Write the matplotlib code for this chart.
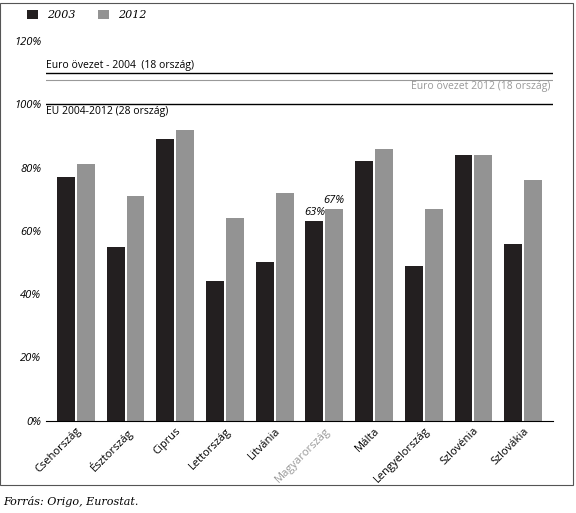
import matplotlib
matplotlib.use("Agg")
import matplotlib.pyplot as plt
from matplotlib.patches import Rectangle

categories = ["Csehország","Észtország","Ciprus","Lettország","Litvánia","Magyarország","Málta","Lengyelország","Szlovénia","Szlovákia"]
v2003 = [77,55,89,44,50,63,82,49,84,56]
v2012 = [81,71,92,64,72,67,86,67,84,76]
yticks = [0,20,40,60,80,100,120]

plt.rcParams['font.family'] = ['Open Sans','DejaVu Sans']
fig = plt.figure(figsize=(5.76,5.13), dpi=100)
ax = fig.add_axes([0.08, 0.18, 0.88, 0.74])
x = range(len(categories))
w = 0.36
off = 0.2
ax.bar([i-off for i in x], v2003, w, color='#231f20', label='2003')
ax.bar([i+off for i in x], v2012, w, color='#939393', label='2012')
ax.set_ylim(0,120)
ax.set_xlim(-0.6, len(categories)-0.4)
ax.set_yticks(yticks)
ax.set_yticklabels([f"{t}%" for t in yticks], fontsize=8, style='italic')
ax.set_xticks(list(x))
ax.set_xticklabels(categories, rotation=45, ha='right', fontsize=8, rotation_mode='anchor')
for lab in ax.get_xticklabels():
    if lab.get_text() == "Magyarország":
        lab.set_color('#999999')
for s in ['top','right','left']:
    ax.spines[s].set_visible(False)
ax.tick_params(length=0)
ax.axhline(110, color='black', lw=1)
ax.axhline(107.8, color='#999999', lw=0.8)
ax.axhline(100, color='black', lw=1)
ax.text(-0.6, 110.5, "Euro övezet - 2004  (18 ország)", fontsize=7.5, va='bottom')
ax.text(len(categories)-0.45, 107.3, "Euro övezet 2012 (18 ország)", fontsize=7.5, va='top', ha='right', color='#999999')
ax.text(-0.6, 99.5, "EU 2004-2012 (28 ország)", fontsize=7.5, va='top')
i = categories.index("Magyarország")
ax.text(i-off, v2003[i]+1, "63%", ha='center', va='bottom', fontsize=8, style='italic')
ax.text(i+off, v2012[i]+1, "67%", ha='center', va='bottom', fontsize=8, style='italic')
leg = fig.legend(loc='upper left', bbox_to_anchor=(0.03, 1.0), ncol=2, frameon=False,
                 prop={'family':'DejaVu Serif','style':'italic','size':8}, handlelength=1.0, handleheight=0.8)
fig.add_artist(Rectangle((0.0, 0.055), 0.995, 0.94, transform=fig.transFigure, fill=False, lw=0.8, ec='#555555'))
fig.text(0.005, 0.015, "Forrás: Origo, Eurostat.", fontsize=8, style='italic', family='DejaVu Serif')
fig.savefig("out.png", dpi=100)
